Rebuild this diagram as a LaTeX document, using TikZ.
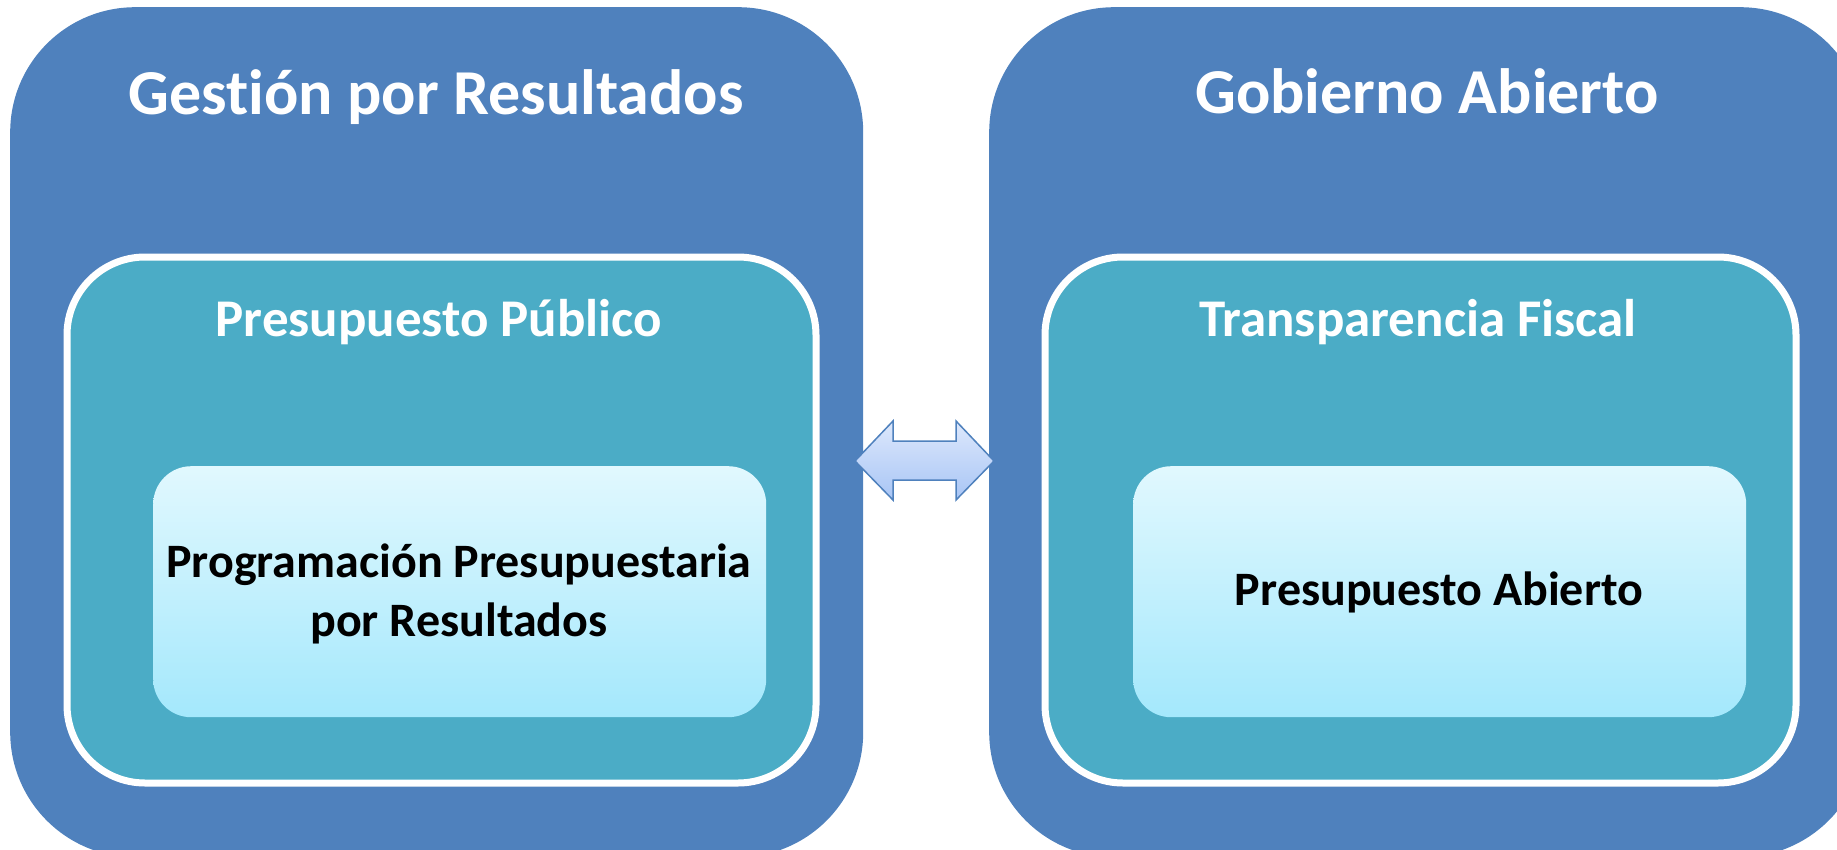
\documentclass[tikz,border=0pt]{standalone}
\usepackage{fontspec}
\setmainfont{Carlito}[Ligatures=NoCommon]
\definecolor{outerblue}{RGB}{79,129,189}
\definecolor{midteal}{RGB}{75,172,198}
\definecolor{innertop}{RGB}{225,248,254}
\definecolor{innerbot}{RGB}{164,232,252}
\definecolor{arrowtop}{RGB}{221,232,252}
\definecolor{arrowbot}{RGB}{168,197,245}
\begin{document}
\begin{tikzpicture}[x=1pt,y=-1pt,
  outerbox/.style={rectangle, fill=outerblue, rounded corners=125pt, anchor=north west, inner sep=0pt},
  midbox/.style={rectangle, fill=midteal, draw=white, line width=7pt, rounded corners=78pt, anchor=north west, inner sep=0pt},
  innerbox/.style={rectangle, top color=innertop, bottom color=innerbot, rounded corners=38pt, anchor=north west, inner sep=0pt},
  bigtitle/.style={text=white, font=\fontsize{64}{77}\selectfont\bfseries, anchor=base, inner sep=0pt},
  midtitle/.style={text=white, font=\fontsize{53}{64}\selectfont\bfseries, anchor=base, inner sep=0pt},
  innertext/.style={text=black, font=\fontsize{48}{59}\selectfont\bfseries, anchor=base, align=center, inner sep=0pt}
]
\useasboundingbox (0,0) rectangle (1837,849);
\clip (0,0) rectangle (1837,849);
% outer boxes
\node[outerbox, minimum width=853pt, minimum height=850pt] (gpr) at (10,7) {};
\node[outerbox, minimum width=876pt, minimum height=850pt] (ga) at (989,7) {};
% middle boxes
\node[midbox, minimum width=749pt, minimum height=526pt] (pp) at (63.5,253.5) {};
\node[midbox, minimum width=751pt, minimum height=526pt] (tf) at (1041.5,253.5) {};
% inner boxes
\node[innerbox, minimum width=613pt, minimum height=251pt] (ppr) at (153,466) {};
\node[innerbox, minimum width=613pt, minimum height=251pt] (pa) at (1133,466) {};
% titles
\node[bigtitle] (gprt) at (436,114) {Gestión por Resultados};
\node[bigtitle] (gat) at (1427,113) {Gobierno Abierto};
\node[midtitle] (ppt) at (439,336) {Presupuesto Público};
\node[midtitle] (tft) at (1418,336) {Transparencia Fiscal};
\node[innertext] (pprt) at (459,636) {Programación Presupuestaria\\por Resultados};
\node[innertext] (pat) at (1439,605) {Presupuesto Abierto};
% double arrow
\draw[draw=outerblue, line width=1.5pt, line join=miter, top color=arrowtop, bottom color=arrowbot]
  (855,461) -- (893,421) -- (893,441) -- (956,441) -- (956,421) -- (994,461)
  -- (956,500) -- (956,480) -- (893,480) -- (893,500) -- cycle;
\end{tikzpicture}
\end{document}
